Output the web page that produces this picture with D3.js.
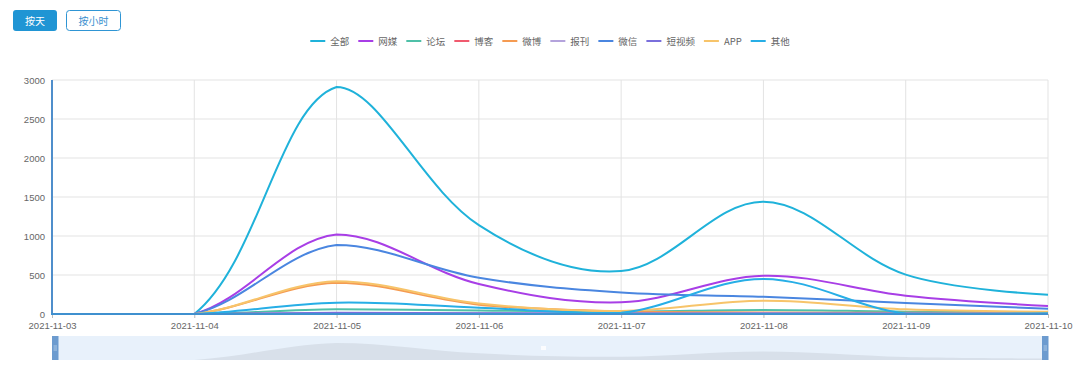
<!DOCTYPE html>
<html lang="zh">
<head>
<meta charset="UTF-8">
<title>按天趋势</title>
<script src="https://d3js.org/d3.v7.min.js"></script>
<style>
    body, html { margin: 0; padding: 0; background: #fff; }
    svg { display: block; font-family: "Liberation Sans", Arial, "Noto Sans CJK SC", sans-serif; }
    .grid line { stroke: #e3e3e3; stroke-width: 1; }
    .axis text { fill: #666; font-size: 9.5px; }
    .axis .domain { display: none; }
    .legend text { fill: #666; font-size: 9.5px; font-family: "Noto Sans CJK SC", "Liberation Sans", sans-serif; }
</style>
</head>
<body>
<script>
// categories / ticks
const dates = ["2021-11-03", "2021-11-04", "2021-11-05", "2021-11-06", "2021-11-07", "2021-11-08", "2021-11-09", "2021-11-10"];
const yTicks = [0, 500, 1000, 1500, 2000, 2500, 3000];

// series values (one per date)
const quanbu   = [0, 0, 2910, 1140, 550, 1440, 505, 248];
const wangmei  = [0, 0, 1020, 385, 150, 490, 235, 102];
const luntan   = [0, 0, 60, 45, 30, 52, 30, 20];
const boke     = [0, 0, 5, 3, 2, 8, 3, 2];
const weibo    = [0, 0, 400, 120, 35, 20, 15, 20];
const baokan   = [0, 0, 10, 8, 5, 10, 5, 5];
const weixin   = [0, 0, 885, 465, 275, 220, 140, 68];
const duanshipin = [0, 0, 15, 10, 5, 8, 5, 5];
const app      = [0, 0, 420, 135, 40, 170, 60, 30];
const qita     = [0, 0, 145, 80, 15, 450, 5, 10];

const seriesNames = ["全部", "网媒", "论坛", "博客", "微博", "报刊", "微信", "短视频", "APP", "其他"];
const seriesData = [quanbu, wangmei, luntan, boke, weibo, baokan, weixin, duanshipin, app, qita];
const colors = ["#1fb2da", "#a83ee6", "#4fc0a8", "#f05a6e", "#f59b52", "#b4a3dc", "#4a86e0", "#7a6fdc", "#f7c46a", "#27aee6"];

const W = 1080, H = 375;
const svg = d3.select("body").append("svg").attr("width", W).attr("height", H);

// ECharts-like smooth bezier (control points clamped to the series bbox)
function smoothCurve(context) {
    let pts = [];
    return {
        areaStart() {}, areaEnd() {},
        lineStart() { pts = []; },
        point(x, y) { pts.push([+x, +y]); },
        lineEnd() {
            const n = pts.length, s = 0.35;
            if (!n) return;
            const minY = d3.min(pts, p => p[1]), maxY = d3.max(pts, p => p[1]);
            const minX = pts[0][0], maxX = pts[n - 1][0];
            const clamp = p => [Math.max(minX, Math.min(maxX, p[0])), Math.max(minY, Math.min(maxY, p[1]))];
            const cps = pts.map((p, i) => {
                if (i === 0 || i === n - 1) return [p, p];
                const a = pts[i - 1], b = pts[i + 1];
                const vx = (b[0] - a[0]) * s, vy = (b[1] - a[1]) * s;
                let d0 = Math.hypot(p[0] - a[0], p[1] - a[1]);
                let d1 = Math.hypot(b[0] - p[0], b[1] - p[1]);
                const sum = d0 + d1;
                if (sum) { d0 /= sum; d1 /= sum; }
                return [clamp([p[0] - vx * d0, p[1] - vy * d0]), clamp([p[0] + vx * d1, p[1] + vy * d1])];
            });
            context.moveTo(pts[0][0], pts[0][1]);
            for (let i = 1; i < n; i++) {
                context.bezierCurveTo(cps[i - 1][1][0], cps[i - 1][1][1], cps[i][0][0], cps[i][0][1], pts[i][0], pts[i][1]);
            }
        }
    };
}

// buttons
const btn = svg.append("g");
btn.append("rect").attr("x", 13).attr("y", 10).attr("width", 44).attr("height", 21).attr("rx", 3)
    .attr("fill", "#2095d4");
btn.append("text").attr("x", 35).attr("y", 24.5).attr("text-anchor", "middle")
    .attr("fill", "#fff").style("font-size", "10px").style("font-family", "Noto Sans CJK SC").text("按天");
btn.append("rect").attr("x", 66.5).attr("y", 10.5).attr("width", 54).attr("height", 20).attr("rx", 3)
    .attr("fill", "#fff").attr("stroke", "#2f95d4");
btn.append("text").attr("x", 93.5).attr("y", 24.5).attr("text-anchor", "middle")
    .attr("fill", "#3a8fcf").style("font-size", "10px").style("font-family", "Noto Sans CJK SC").text("按小时");

// legend
const legend = svg.append("g").attr("class", "legend");
const items = seriesNames.map((name, i) => {
    const g = legend.append("g");
    g.append("line").attr("x1", 0).attr("x2", 15).attr("y1", 0).attr("y2", 0)
        .attr("stroke", colors[i]).attr("stroke-width", 2);
    const t = g.append("text").attr("x", 20).attr("y", 3.5).text(name);
    return { g, w: 20 + t.node().getComputedTextLength() };
});
const legendGap = 9;
const legendW = d3.sum(items, d => d.w) + legendGap * (items.length - 1);
let lx = 550 - legendW / 2;
items.forEach(d => {
    d.g.attr("transform", `translate(${lx},41)`);
    lx += d.w + legendGap;
});

// scales
const x = d3.scalePoint().domain(dates).range([52, 1048]);
const y = d3.scaleLinear().domain([0, 3000]).range([314, 80]);

// grid
const grid = svg.append("g").attr("class", "grid");
grid.selectAll(".h").data(yTicks.slice(1)).join("line")
    .attr("x1", 52).attr("x2", 1048).attr("y1", d => y(d)).attr("y2", d => y(d));
grid.selectAll(".v").data(dates.slice(1)).join("line")
    .attr("x1", d => x(d)).attr("x2", d => x(d)).attr("y1", 80).attr("y2", 314);

// axes
svg.append("g").attr("class", "axis").attr("transform", "translate(52,0)")
    .call(d3.axisLeft(y).tickValues(yTicks).tickFormat(d3.format("d")).tickSize(0).tickPadding(7));
const xAxis = svg.append("g").attr("class", "axis").attr("transform", "translate(0,314)")
    .call(d3.axisBottom(x).tickSize(4).tickPadding(4));
xAxis.selectAll(".tick line").attr("stroke", "#bbb");

// lines
const line = d3.line().x((d, i) => x(dates[i])).y(d => y(d)).curve(smoothCurve);
svg.append("g").selectAll("path").data(seriesData).join("path")
    .attr("d", d => line(d))
    .attr("fill", "none")
    .attr("stroke", (d, i) => colors[i])
    .attr("stroke-width", 2)
    .attr("stroke-linejoin", "round");

// axis lines on top
svg.append("line").attr("x1", 52).attr("x2", 52).attr("y1", 80).attr("y2", 315)
    .attr("stroke", "#4f8ecb").attr("stroke-width", 2);
svg.append("line").attr("x1", 51).attr("x2", 1048).attr("y1", 314).attr("y2", 314)
    .attr("stroke", "#3f90cf").attr("stroke-width", 2);

// data zoom slider
const dz = svg.append("g");
const ys = d3.scaleLinear().domain([0, d3.max(quanbu)]).range([360, 343]);
dz.append("rect").attr("x", 52).attr("y", 336).attr("width", 996).attr("height", 24).attr("fill", "#e8f1fb");
const shadowLine = d3.line().x((d, i) => x(dates[i])).y(d => ys(d)).curve(smoothCurve);
dz.append("path")
    .attr("d", shadowLine(quanbu) + `L${x(dates[dates.length - 1])},360L${x(dates[0])},360Z`)
    .attr("fill", "#d8e0ea");
dz.append("rect").attr("x", 541).attr("y", 346).attr("width", 5).attr("height", 4).attr("fill", "#fff").attr("opacity", 0.8);
[52, 1042].forEach(hx => {
    dz.append("rect").attr("x", hx).attr("y", 336).attr("width", 6.5).attr("height", 24).attr("fill", "#6c9bcf");
    [346, 348, 350].forEach(ly => {
        dz.append("line").attr("x1", hx + 1.5).attr("x2", hx + 5).attr("y1", ly).attr("y2", ly)
            .attr("stroke", "#c9dbee").attr("stroke-width", 0.7);
    });
});
</script>
</body>
</html>
